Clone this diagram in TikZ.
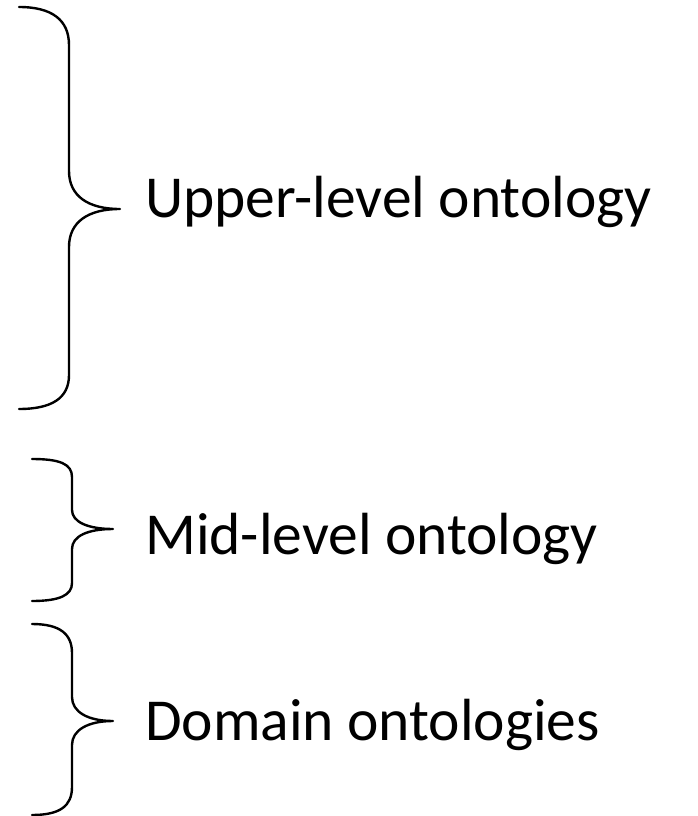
\documentclass[tikz,border=0pt]{standalone}
\usepackage{fontspec}
\setmainfont{Carlito}
\begin{document}
\begin{tikzpicture}[x=1pt,y=-1pt,
  bracepath/.style={draw=black,line width=2.4pt,line cap=round,line join=round},
  label/.style={anchor=base west,inner sep=0pt,font=\fontsize{59.5}{72}\selectfont}]
\useasboundingbox (0,0) rectangle (698,816);

% upper brace
\path[bracepath] (19,7) .. controls (52,7) and (69,20) .. (69,45)
  -- (69,171) .. controls (69,196) and (88,209) .. (120,209)
  .. controls (88,209) and (69,222) .. (69,247)
  -- (69,375) .. controls (69,398) and (52,409) .. (19,409);
% middle brace
\path[bracepath] (32,459) .. controls (60,459) and (72,464) .. (72,477)
  -- (72,510) .. controls (72,522) and (88,529) .. (113,529)
  .. controls (88,529) and (72,536) .. (72,549)
  -- (72,583) .. controls (72,595) and (60,601) .. (32,601);
% lower brace
\path[bracepath] (32,624) .. controls (60,624) and (72,634) .. (72,653)
  -- (72,697) .. controls (72,712) and (88,721) .. (113,721)
  .. controls (88,721) and (72,730) .. (72,745)
  -- (72,787) .. controls (72,806) and (60,815) .. (32,815);

\node[label] (upper) at (145,217) {Upper-level ontology};
\node[label] (mid) at (145,554) {Mid-level ontology};
\node[label] (domain) at (145,740) {Domain ontologies};
\end{tikzpicture}
\end{document}
